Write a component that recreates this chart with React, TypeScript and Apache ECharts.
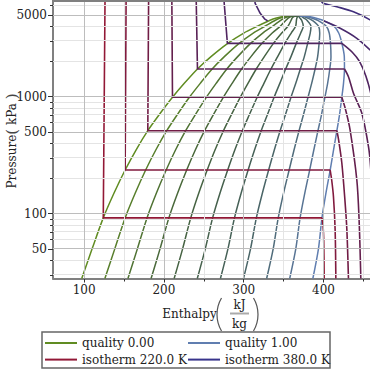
import React, { useEffect, useRef } from "react";
import * as echarts from "echarts";

// Saturation pressures (kPa) at which the saturation/quality curves are sampled
const pressures = [27.9, 50, 92, 150, 236, 350, 512, 700, 988, 1300, 1725, 2200, 2857, 3500, 4000, 4500, 4700, 4850, 4930];

// Enthalpy (kJ/kg) of the constant-quality lines at each pressure above
const quality000 = [97, 110, 124, 137.5, 151.4, 165, 179.8, 194, 210.7, 225.5, 242, 259, 280, 300, 317, 333, 341, 350, 370];
const quality010 = [126.0, 138.4, 151.4, 164.1, 177.1, 189.8, 203.5, 216.6, 231.9, 245.5, 260.4, 275.7, 294.3, 311.9, 326.6, 339.6, 345.9, 353.2, 370];
const quality020 = [154.9, 166.7, 178.8, 190.6, 202.8, 214.5, 227.2, 239.2, 253.1, 265.4, 278.8, 292.4, 308.6, 323.8, 336.2, 346.2, 350.8, 356.4, 370];
const quality030 = [183.9, 195.1, 206.2, 217.2, 228.5, 239.3, 250.9, 261.8, 274.4, 285.4, 297.3, 309.1, 322.9, 335.7, 345.8, 352.8, 355.7, 359.6, 370];
const quality040 = [212.8, 223.4, 233.6, 243.7, 254.2, 264.0, 274.6, 284.4, 295.6, 305.3, 315.7, 325.8, 337.2, 347.6, 355.4, 359.4, 360.6, 362.8, 370];
const quality050 = [241.8, 251.8, 261.0, 270.3, 279.9, 288.8, 298.3, 307.0, 316.8, 325.3, 334.1, 342.5, 351.5, 359.5, 365.0, 366.0, 366.6, 367.6, 370];
const quality060 = [270.8, 280.2, 288.4, 296.8, 305.5, 313.5, 321.9, 329.6, 338.0, 345.2, 352.5, 359.2, 365.8, 371.4, 374.6, 372.6, 370.4, 369.2, 370];
const quality070 = [299.7, 308.5, 315.8, 323.4, 331.2, 338.3, 345.6, 352.2, 359.2, 365.2, 370.9, 375.9, 380.1, 383.3, 384.2, 379.2, 375.3, 372.4, 370];
const quality080 = [328.7, 336.9, 343.2, 349.9, 356.9, 363.0, 369.3, 374.8, 380.5, 385.1, 389.4, 392.6, 394.4, 395.2, 393.8, 385.8, 380.2, 375.6, 370];
const quality090 = [357.6, 365.2, 370.6, 376.5, 382.6, 387.8, 393.0, 397.4, 401.7, 405.1, 407.8, 409.3, 408.7, 407.1, 403.4, 392.4, 385.1, 378.8, 370];
const quality100 = [386.6, 393.6, 398, 403, 408.3, 412.5, 416.7, 420, 422.9, 425, 426.2, 426, 423, 419, 413, 399, 390, 382, 370];

const qualityValues = [0, 0.1, 0.2, 0.3, 0.4, 0.5, 0.6, 0.7, 0.8, 0.9, 1.0];
const qualityLines = [quality000, quality010, quality020, quality030, quality040, quality050, quality060, quality070, quality080, quality090, quality100];

// Isotherms: [enthalpy kJ/kg, pressure kPa]; liquid branch incl. two-phase plateau, then vapour branch
const isothermTemps = [220, 240, 260, 280, 300, 320, 340, 360, 380];
const iso220Liquid = [[126.2, 7000], [124, 92], [398, 92]];
const iso220Vapor = [[398, 92], [399.3, 80], [400.2, 60], [400.8, 27.9]];
const iso240Liquid = [[152.6, 7000], [151.4, 236], [408.3, 236]];
const iso240Vapor = [[408.3, 236], [410.2, 194], [412.4, 140], [414.5, 73], [415.4, 27.9]];
const iso260Liquid = [[180.8, 7000], [179.8, 512], [416.7, 512]];
const iso260Vapor = [[416.7, 512], [418.9, 426], [422.9, 271], [426.8, 130], [429.2, 73], [431.2, 27.9]];
const iso280Liquid = [[209.9, 7000], [210.7, 988], [422.9, 988]];
const iso280Vapor = [[422.9, 988], [427.7, 770], [433.3, 518], [441.7, 194], [444.5, 90], [446.7, 27.9]];
const iso300Liquid = [[240.4, 7000], [242, 1725], [426.2, 1725]];
const iso300Vapor = [[426.2, 1725], [431.2, 1483], [437.5, 1070], [448, 721], [456.3, 374], [459, 250], [462, 100], [463, 27.9]];
const iso320Liquid = [[275, 7000], [279.5, 2857], [423, 2857]];
const iso320Vapor = [[423, 2857], [436, 2400], [445, 2000], [453, 1500], [460, 1000], [466, 500], [470, 27.9]];
const iso340Liquid = [[313.5, 7000], [314.3, 6281], [320.6, 5164], [326.5, 4600], [330, 4450]];
const iso340Vapor = [[400, 4450], [420.8, 3846], [441.7, 3155], [458.4, 2506], [480, 1800]];
const iso360Liquid: number[][] = [];
const iso360Vapor = [[396, 7000], [398.6, 6353], [416.7, 5877], [437.5, 5322], [458.4, 4531], [480, 3500]];
const iso380Liquid: number[][] = [];
const iso380Vapor = [[475, 7000], [490, 5000], [500, 2000]];

const isoLiquid = [iso220Liquid, iso240Liquid, iso260Liquid, iso280Liquid, iso300Liquid, iso320Liquid, iso340Liquid, iso360Liquid, iso380Liquid];
const isoVapor = [iso220Vapor, iso240Vapor, iso260Vapor, iso280Vapor, iso300Vapor, iso320Vapor, iso340Vapor, iso360Vapor, iso380Vapor];

// Axis ticks
const xMajorTicks = [100, 200, 300, 400];
const xMinorTicks = [150, 250, 350, 450];
const yMajorTicks = [50, 100, 500, 1000, 5000];
const yMinorTicks = [30, 40, 60, 70, 80, 90, 200, 300, 400, 600, 700, 800, 900, 2000, 3000, 4000, 6000];

const legendLeftNames = ["quality 0.00", "isotherm 220.0 K"];
const legendRightNames = ["quality 1.00", "isotherm 380.0 K"];

const X_MIN = 61;
const X_MAX = 458.2;
const P_MIN = 27.9;
const P_MAX = 6577;

const FONT = "DejaVu Serif";

function mixColor(a: number[], b: number[], t: number, darken: number) {
  const f = 1 - darken * Math.sin(Math.PI * t);
  const c = a.map((v, i) => Math.round((v + (b[i] - v) * t) * f));
  return `rgb(${c[0]},${c[1]},${c[2]})`;
}

const Q0 = [96, 140, 34];
const Q1 = [96, 126, 176];
const T0 = [146, 24, 54];
const T1 = [56, 52, 140];

export default function App() {
  const ref = useRef<HTMLDivElement>(null);

  useEffect(() => {
    if (!ref.current) return;
    const chart = echarts.init(ref.current, undefined, { renderer: "svg" });
    const lg = (p: number) => Math.log10(p);

    const series: any[] = [];

    // grid lines
    const light = { color: "#e4e4e4", width: 1, type: "solid" };
    const dark = { color: "#bdbdbd", width: 1, type: "solid" };
    series.push({
      type: "line",
      data: [],
      silent: true,
      z: 1,
      markLine: {
        silent: true,
        symbol: ["none", "none"],
        label: { show: false },
        animation: false,
        lineStyle: { type: "solid" },
        data: [
          ...xMinorTicks.map((v) => ({ xAxis: v, lineStyle: light })),
          ...yMinorTicks.map((v) => ({ yAxis: lg(v), lineStyle: light })),
          ...xMajorTicks.map((v) => ({ xAxis: v, lineStyle: dark })),
          ...yMajorTicks.map((v) => ({ yAxis: lg(v), lineStyle: dark })),
        ],
      },
    });

    qualityLines.forEach((hs, k) => {
      const t = k / (qualityLines.length - 1);
      const color = mixColor(Q0, Q1, t, 0.28);
      series.push({
        name: `quality ${qualityValues[k].toFixed(2)}`,
        type: "line",
        symbol: "none",
        smooth: 0.3,
        z: 3,
        lineStyle: { color, width: 1.5 },
        itemStyle: { color },
        data: pressures.map((p, i) => [hs[i], lg(p)]),
      });
    });

    isothermTemps.forEach((T, k) => {
      const t = k / (isothermTemps.length - 1);
      const color = mixColor(T0, T1, t, 0.12);
      const name = `isotherm ${T.toFixed(1)} K`;
      series.push({
        name,
        type: "line",
        symbol: "none",
        smooth: false,
        z: 4,
        lineStyle: { color, width: 1.6 },
        itemStyle: { color },
        data: isoLiquid[k].map(([h, p]) => [h, lg(p)]),
      });
      series.push({
        name,
        type: "line",
        symbol: "none",
        smooth: 0.3,
        z: 4,
        lineStyle: { color, width: 1.6 },
        itemStyle: { color },
        data: isoVapor[k].map(([h, p]) => [h, lg(p)]),
      });
    });

    const legendCommon = {
      orient: "vertical",
      top: 336,
      itemWidth: 32,
      itemHeight: 2,
      itemGap: 2.6,
      padding: 0,
      icon: "rect",
      selectedMode: false,
      textStyle: { fontFamily: FONT, fontSize: 12, color: "#222", lineHeight: 14 },
    };

    chart.setOption({
      animation: false,
      backgroundColor: "#ffffff",
      grid: {
        left: 53,
        top: 1,
        right: 0,
        height: 277.5,
        show: false,
      },
      xAxis: [
        {
          type: "value",
          min: X_MIN,
          max: X_MAX,
          position: "bottom",
          axisLine: { show: true, lineStyle: { color: "#808080", width: 2 } },
          axisTick: { show: true, customValues: xMajorTicks, length: 4, lineStyle: { color: "#333" } },
          axisLabel: {
            customValues: xMajorTicks,
            fontFamily: FONT,
            fontSize: 12,
            color: "#222",
            margin: 5,
          },
          splitLine: { show: false },
        },
        {
          type: "value",
          min: X_MIN,
          max: X_MAX,
          position: "bottom",
          axisLine: { show: false },
          axisTick: { show: true, customValues: xMinorTicks, length: 3, lineStyle: { color: "#333" } },
          axisLabel: { show: false },
          splitLine: { show: false },
        },
      ],
      yAxis: [
        {
          type: "value",
          min: lg(P_MIN),
          max: lg(P_MAX),
          position: "left",
          axisLine: { show: true, lineStyle: { color: "#808080", width: 2 } },
          axisTick: { show: true, customValues: yMajorTicks.map(lg), length: 5, lineStyle: { color: "#333" } },
          axisLabel: {
            customValues: yMajorTicks.map(lg),
            formatter: (v: number) => String(Math.round(Math.pow(10, v))),
            fontFamily: FONT,
            fontSize: 12,
            color: "#222",
            margin: 6,
          },
          splitLine: { show: false },
        },
        {
          type: "value",
          min: lg(P_MIN),
          max: lg(P_MAX),
          position: "left",
          axisLine: { show: false },
          axisTick: { show: true, customValues: yMinorTicks.map(lg), length: 3, lineStyle: { color: "#333" } },
          axisLabel: { show: false },
          splitLine: { show: false },
        },
      ],
      legend: [
        { ...legendCommon, left: 45, data: legendLeftNames },
        { ...legendCommon, left: 188, data: legendRightNames },
      ],
      graphic: [
        {
          type: "line",
          z: 10,
          shape: { x1: 52, y1: 1, x2: 370, y2: 1 },
          style: { stroke: "#808080", lineWidth: 2 },
        },
        {
          type: "rect",
          z: -10,
          shape: { x: 42, y: 332, width: 288, height: 36 },
          style: { fill: "#ffffff", stroke: "#666666", lineWidth: 1.5 },
        },
        {
          type: "text",
          x: 12,
          y: 141,
          rotation: Math.PI / 2,
          style: {
            text: "Pressure{p|(}{n| kPa }{p|)}",
            fontFamily: FONT,
            fontSize: 12,
            fill: "#222",
            align: "center",
            verticalAlign: "middle",
            rich: {
              p: { fontFamily: FONT, fontSize: 15, fill: "#444" },
              n: { fontFamily: FONT, fontSize: 12, fill: "#222" },
            },
          },
        },
        {
          type: "text",
          x: 189.5,
          y: 314,
          style: { text: "Enthalpy", fontFamily: FONT, fontSize: 12, fill: "#222", align: "center", verticalAlign: "middle" },
        },
        {
          type: "arc",
          shape: { cx: 249.5, cy: 314.5, r: 32.5, startAngle: Math.PI - 0.533, endAngle: Math.PI + 0.533, clockwise: true },
          style: { stroke: "#555", lineWidth: 1.2, fill: null },
        },
        {
          type: "arc",
          shape: { cx: 225.5, cy: 314.5, r: 32.5, startAngle: -0.533, endAngle: 0.533, clockwise: true },
          style: { stroke: "#555", lineWidth: 1.2, fill: null },
        },
        {
          type: "text",
          x: 239.5,
          y: 305,
          style: { text: "kJ", fontFamily: FONT, fontSize: 12, fill: "#222", align: "center", verticalAlign: "middle" },
        },
        {
          type: "line",
          shape: { x1: 230, y1: 313.5, x2: 249, y2: 313.5 },
          style: { stroke: "#aaaaaa", lineWidth: 2 },
        },
        {
          type: "text",
          x: 239.5,
          y: 323.5,
          style: { text: "kg", fontFamily: FONT, fontSize: 12, fill: "#222", align: "center", verticalAlign: "middle" },
        },
      ],
      series,
    });

    return () => chart.dispose();
  }, []);

  return (
    <div
      ref={ref}
      style={{ position: "fixed", left: 0, top: 0, width: 370, height: 370, background: "#fff" }}
    />
  );
}
